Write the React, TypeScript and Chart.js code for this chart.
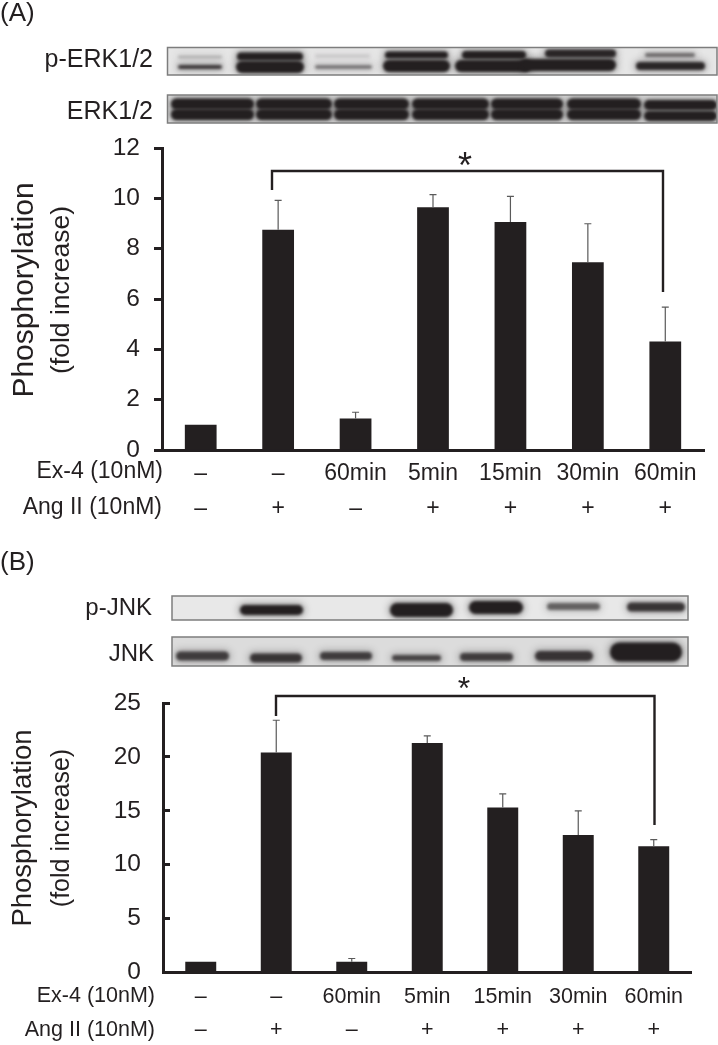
import React, { useEffect, useRef } from "react";
import { Chart, registerables } from "chart.js";

Chart.register(...registerables);

const INK = "#231f20";
const FONT = '"Liberation Sans", Arial, sans-serif';

// ---- data ----
const exRow = ["–", "–", "60min", "5min", "15min", "30min", "60min"];
const angRow = ["–", "+", "–", "+", "+", "+", "+"];

const erkValues = [1, 8.75, 1.25, 9.65, 9.06, 7.46, 4.31];
const erkErrorTops = [1, 9.92, 1.5, 10.15, 10.08, 8.99, 5.68];
const erkTicks = [0, 2, 4, 6, 8, 10, 12];

const jnkValues = [1, 20.4, 1, 21.3, 15.3, 12.76, 11.71];
const jnkErrorTops = [1, 23.4, 1.3, 21.95, 16.57, 15, 12.33];
const jnkTicks = [0, 5, 10, 15, 20, 25];

// blot bands: [x0, x1, centre y, height, darkness]
type Band = [number, number, number, number, number];
const pErkBands: Band[] = [
  [178, 222, 57, 2.5, 0.25], [178, 222, 67, 4, 0.85],
  [237, 303, 56.5, 8, 1], [236, 304, 67, 12, 1],
  [315, 370, 56, 2.5, 0.14], [315, 372, 67, 3.5, 0.55],
  [385, 448, 55, 7, 1], [383, 450, 66, 12, 1],
  [462, 526, 55, 8, 1], [455, 531, 66, 12, 1],
  [545, 616, 53.5, 8, 0.95], [520, 616, 65, 12, 1],
  [645, 695, 55, 4, 0.55], [636, 705, 66, 8, 0.95],
];
const erkBands: Band[] = [
  [171, 254, 104, 11, 1], [171, 254, 114.5, 11, 1],
  [256, 332, 104, 11, 1], [256, 332, 114.5, 11, 1],
  [334, 409, 104, 11, 1], [334, 409, 114.5, 11, 1],
  [412, 489, 104, 11, 1], [412, 489, 114.5, 11, 1],
  [491, 563, 104, 11, 1], [491, 563, 114.5, 11, 1],
  [567, 641, 104, 11, 1], [567, 641, 114.5, 11, 1],
  [644, 717, 105, 10, 1], [644, 717, 116, 10, 1],
];
const pJnkBands: Band[] = [
  [240, 303, 610, 10, 1], [390, 453, 610, 14, 1], [469, 523, 607.5, 13, 1],
  [547, 600, 606.5, 7, 0.6], [627, 685, 607, 9, 0.85],
];
const jnkBands: Band[] = [
  [176, 229, 656, 9, 0.8], [250, 302, 658, 9, 0.85], [320, 372, 656, 8, 0.8],
  [392, 441, 658, 6, 0.75], [460, 513, 657, 8, 0.8], [535, 593, 656, 10, 0.85],
  [610, 682, 652, 19, 1],
];

type Blot = { x0: number; x1: number; y0: number; y1: number; bg: string; bands: Band[] };
type Label = { text: string; x: number; y: number; size: number; align?: CanvasTextAlign };

type Panel = {
  height: number;
  top: number;
  plotLeft: number;
  plotRight: number;
  plotTop: number;
  plotBottom: number;
  max: number;
  stepTicks: number[];
  values: number[];
  errorTops: number[];
  tickLength: number;
  tickPadding: number;
  tickSize: number;
  rowSize: number;
  rowLine: number;
  rowPadding: number;
  bracket: { y: number; leftX: number; leftY: number; rightX: number; rightY: number };
  star: { x: number; y: number; size: number };
  titleLines: { text: string; x: number; y: number; size: number }[];
  blots: Blot[];
  labels: Label[];
};

const panels: Panel[] = [
  {
    height: 530,
    top: 0,
    plotLeft: 162,
    plotRight: 704,
    plotTop: 148,
    plotBottom: 450,
    max: 12,
    stepTicks: erkTicks,
    values: erkValues,
    errorTops: erkErrorTops,
    tickLength: 8,
    tickPadding: 14,
    tickSize: 24.5,
    rowSize: 23,
    rowLine: 35,
    rowPadding: -2,
    bracket: { y: 171, leftX: 272, leftY: 190, rightX: 663, rightY: 292 },
    star: { x: 465, y: 168.5, size: 36 },
    titleLines: [
      { text: "Phosphorylation", x: 25, y: 290, size: 30 },
      { text: "(fold increase)", x: 62, y: 290, size: 26.5 },
    ],
    blots: [
      { x0: 167.5, x1: 717, y0: 47.5, y1: 75, bg: "#e6e6e6", bands: pErkBands },
      { x0: 167.5, x1: 717, y0: 95, y1: 123, bg: "#dedede", bands: erkBands },
    ],
    labels: [
      { text: "(A)", x: 0, y: 14, size: 26 },
      { text: "p-ERK1/2", x: 153, y: 60, size: 25, align: "right" },
      { text: "ERK1/2", x: 153, y: 112, size: 25, align: "right" },
      { text: "Ex-4 (10nM)", x: 163, y: 472, size: 23, align: "right" },
      { text: "Ang II (10nM)", x: 162, y: 508, size: 23, align: "right" },
    ],
  },
  {
    height: 515,
    top: 530,
    plotLeft: 163,
    plotRight: 691.5,
    plotTop: 703,
    plotBottom: 972.5,
    max: 25,
    stepTicks: jnkTicks,
    values: jnkValues,
    errorTops: jnkErrorTops,
    tickLength: -7,
    tickPadding: 29,
    tickSize: 24.5,
    rowSize: 21.5,
    rowLine: 33,
    rowPadding: 0,
    bracket: { y: 696, leftX: 276, leftY: 716, rightX: 654.5, rightY: 825 },
    star: { x: 464, y: 690, size: 32 },
    titleLines: [
      { text: "Phosphorylation", x: 23, y: 828, size: 27.5 },
      { text: "(fold increase)", x: 62, y: 828, size: 25 },
    ],
    blots: [
      { x0: 172, x1: 688, y0: 596, y1: 620, bg: "#e8e8e8", bands: pJnkBands },
      { x0: 172, x1: 688, y0: 637, y1: 666, bg: "#dcdcdc", bands: jnkBands },
    ],
    labels: [
      { text: "(B)", x: 0, y: 563, size: 26 },
      { text: "p-JNK", x: 152, y: 608, size: 24, align: "right" },
      { text: "JNK", x: 154, y: 654, size: 24, align: "right" },
      { text: "Ex-4 (10nM)", x: 155, y: 996, size: 21.5, align: "right" },
      { text: "Ang II (10nM)", x: 155, y: 1030, size: 21.5, align: "right" },
    ],
  },
];

function makeChart(canvas: HTMLCanvasElement, p: Panel) {
  const toLocal = (y: number) => y - p.top;
  const decorations = {
    id: "decorations",
    beforeDraw(chart: any) {
      const ctx: CanvasRenderingContext2D = chart.ctx;
      for (const b of p.blots) {
        ctx.save();
        ctx.fillStyle = b.bg;
        ctx.fillRect(b.x0, toLocal(b.y0), b.x1 - b.x0, b.y1 - b.y0);
        ctx.beginPath();
        ctx.rect(b.x0, toLocal(b.y0), b.x1 - b.x0, b.y1 - b.y0);
        ctx.clip();
        ctx.fillStyle = INK;
        // soft halo first, then the dense core of each band
        ctx.filter = "blur(3.5px)";
        for (const [x0, x1, yc, h, dark] of b.bands) {
          ctx.globalAlpha = dark * 0.35;
          ctx.beginPath();
          ctx.roundRect(x0 - 2, toLocal(yc) - h / 2 - 2, x1 - x0 + 4, h + 4, (h + 4) / 2);
          ctx.fill();
        }
        ctx.filter = "blur(1.6px)";
        for (const [x0, x1, yc, h, dark] of b.bands) {
          ctx.globalAlpha = dark;
          ctx.beginPath();
          ctx.roundRect(x0, toLocal(yc) - h / 2, x1 - x0, h, h / 2);
          ctx.fill();
        }
        ctx.restore();
        ctx.save();
        ctx.strokeStyle = "#7d7d7d";
        ctx.lineWidth = 1.5;
        ctx.strokeRect(b.x0, toLocal(b.y0), b.x1 - b.x0, b.y1 - b.y0);
        ctx.restore();
      }
      ctx.save();
      ctx.fillStyle = INK;
      ctx.textBaseline = "middle";
      for (const l of p.labels) {
        ctx.font = `${l.size}px ${FONT}`;
        ctx.textAlign = l.align ?? "left";
        ctx.fillText(l.text, l.x, toLocal(l.y));
      }
      ctx.textAlign = "center";
      for (const t of p.titleLines) {
        ctx.save();
        ctx.translate(t.x, toLocal(t.y));
        ctx.rotate(-Math.PI / 2);
        ctx.font = `${t.size}px ${FONT}`;
        ctx.fillText(t.text, 0, 0);
        ctx.restore();
      }
      ctx.restore();
    },
    afterDatasetsDraw(chart: any) {
      const ctx: CanvasRenderingContext2D = chart.ctx;
      const xs = chart.scales.x;
      const ys = chart.scales.y;
      ctx.save();
      // error whiskers, from the values through the chart's scales
      ctx.strokeStyle = "#5a5a5a";
      ctx.lineWidth = 1.2;
      p.errorTops.forEach((top, i) => {
        if (top <= p.values[i]) return;
        const x = xs.getPixelForTick(i);
        const y0 = ys.getPixelForValue(p.values[i]);
        const y1 = ys.getPixelForValue(top);
        ctx.beginPath();
        ctx.moveTo(x, y0);
        ctx.lineTo(x, y1);
        ctx.moveTo(x - 3.5, y1);
        ctx.lineTo(x + 3.5, y1);
        ctx.stroke();
      });
      // significance bracket
      const br = p.bracket;
      ctx.strokeStyle = INK;
      ctx.lineWidth = 2.4;
      ctx.lineJoin = "miter";
      ctx.beginPath();
      ctx.moveTo(br.leftX, toLocal(br.leftY));
      ctx.lineTo(br.leftX, toLocal(br.y));
      ctx.lineTo(br.rightX, toLocal(br.y));
      ctx.lineTo(br.rightX, toLocal(br.rightY));
      ctx.stroke();
      ctx.fillStyle = INK;
      ctx.textAlign = "center";
      ctx.textBaseline = "middle";
      ctx.font = `${p.star.size}px ${FONT}`;
      ctx.fillText("*", p.star.x, toLocal(p.star.y));
      ctx.restore();
    },
  };

  return new Chart(canvas, {
    type: "bar",
    data: {
      labels: exRow.map((e, i) => [e, angRow[i]]),
      datasets: [
        {
          data: p.values,
          backgroundColor: INK,
          borderWidth: 0,
          barPercentage: 0.41,
          categoryPercentage: 1,
        },
      ],
    },
    options: {
      animation: false,
      responsive: false,
      events: [],
      layout: {
        padding: { left: 0, top: p.plotTop - p.top, right: 718 - p.plotRight, bottom: 0 },
      },
      plugins: { legend: { display: false }, title: { display: false }, tooltip: { enabled: false } },
      scales: {
        x: {
          type: "category",
          afterFit(scale: any) {
            scale.height = p.height - (p.plotBottom - p.top);
          },
          grid: { display: false },
          border: { display: true, color: INK, width: 3 },
          ticks: {
            color: INK,
            autoSkip: false,
            maxRotation: 0,
            minRotation: 0,
            padding: p.rowPadding,
            font: { family: FONT, size: p.rowSize, lineHeight: `${p.rowLine}px` },
          },
        },
        y: {
          type: "linear",
          min: 0,
          max: p.max,
          afterFit(scale: any) {
            scale.width = p.plotLeft;
          },
          afterBuildTicks(scale: any) {
            scale.ticks = p.stepTicks.map((value) => ({ value }));
          },
          grid: {
            drawOnChartArea: false,
            drawTicks: true,
            tickLength: p.tickLength,
            tickColor: INK,
            tickWidth: 3,
          },
          border: { display: true, color: INK, width: 3 },
          ticks: {
            color: INK,
            padding: p.tickPadding,
            font: { family: FONT, size: p.tickSize },
          },
        },
      },
    },
    plugins: [decorations],
  } as any);
}

function PanelChart({ panel }: { panel: Panel }) {
  const ref = useRef<HTMLCanvasElement>(null);
  useEffect(() => {
    const chart = makeChart(ref.current as HTMLCanvasElement, panel);
    return () => chart.destroy();
  }, [panel]);
  return (
    <canvas
      ref={ref}
      width={718}
      height={panel.height}
      style={{ position: "absolute", left: 0, top: panel.top, width: 718, height: panel.height }}
    />
  );
}

export default function App() {
  return (
    <div style={{ position: "absolute", left: 0, top: 0, width: 718, height: 1045, overflow: "hidden", background: "#fff" }}>
      {panels.map((p) => (
        <PanelChart key={p.top} panel={p} />
      ))}
    </div>
  );
}
